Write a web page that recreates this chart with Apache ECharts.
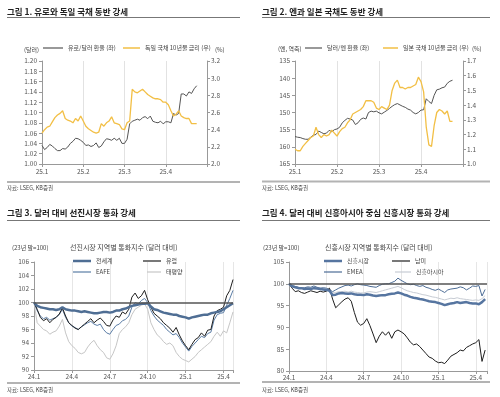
<!DOCTYPE html>
<html>
<head>
<meta charset="utf-8">
<script src="https://cdn.jsdelivr.net/npm/echarts@6/dist/echarts.min.js"></script>
<style>
  html, body { margin: 0; background: #fff; }
  #chart { width: 500px; height: 397px; }
</style>
</head>
<body>
<div id="chart"></div>
<script>
const FONT = '"Noto Sans CJK KR", "Noto Sans", sans-serif'

// 그림 1, 2: x = months since 25.1, one point every 1/16 month
const monthLabels = ['25.1', '25.2', '25.3', '25.4']
const eurUsd = [1.036, 1.028, 1.032, 1.038, 1.035, 1.030, 1.026, 1.026, 1.030, 1.029,
  1.033, 1.040, 1.044, 1.050, 1.049, 1.046, 1.042, 1.036, 1.037, 1.034,
  1.036, 1.041, 1.032, 1.035, 1.043, 1.049, 1.048, 1.046, 1.050, 1.046,
  1.050, 1.040, 1.040, 1.048, 1.078, 1.083, 1.085, 1.087, 1.085, 1.090,
  1.092, 1.088, 1.093, 1.083, 1.081, 1.080, 1.083, 1.078, 1.082, 1.082,
  1.080, 1.098, 1.095, 1.098, 1.136, 1.136, 1.132, 1.140, 1.137, 1.146, 1.152]
const bund10y = [2.36, 2.40, 2.43, 2.44, 2.49, 2.54, 2.57, 2.59, 2.62, 2.53,
  2.51, 2.50, 2.48, 2.53, 2.50, 2.56, 2.50, 2.44, 2.41, 2.39,
  2.37, 2.36, 2.37, 2.47, 2.44, 2.48, 2.50, 2.55, 2.48, 2.47,
  2.46, 2.41, 2.40, 2.48, 2.50, 2.87, 2.84, 2.83, 2.85, 2.87,
  2.84, 2.81, 2.79, 2.77, 2.76, 2.76, 2.75, 2.72, 2.72, 2.69,
  2.62, 2.56, 2.58, 2.62, 2.56, 2.54, 2.53, 2.53, 2.47, 2.47, 2.47]
const usdJpy = [157.0, 157.2, 157.3, 157.6, 157.8, 157.8, 157.2, 156.6, 156.4, 155.4,
  155.8, 156.2, 156.0, 155.2, 155.6, 155.0, 154.8, 154.3, 153.0, 152.3,
  151.7, 151.9, 152.2, 153.5, 153.0, 152.0, 151.6, 151.9, 150.0, 149.6,
  149.8, 149.6, 150.1, 150.4, 149.9, 149.4, 148.8, 148.2, 147.7, 147.4,
  147.8, 148.2, 148.5, 149.0, 149.3, 150.0, 150.4, 150.0, 149.3, 149.2,
  146.0, 146.8, 147.4, 145.0, 143.4, 143.2, 142.8, 142.6, 141.5, 140.9, 140.6]
const jgb10y = [1.10, 1.09, 1.09, 1.12, 1.14, 1.16, 1.18, 1.19, 1.25, 1.20,
  1.18, 1.20, 1.19, 1.20, 1.23, 1.21, 1.19, 1.22, 1.24, 1.25,
  1.28, 1.30, 1.34, 1.35, 1.36, 1.37, 1.39, 1.43, 1.43, 1.43,
  1.42, 1.38, 1.37, 1.39, 1.38, 1.37, 1.40, 1.50, 1.55, 1.57,
  1.52, 1.52, 1.51, 1.52, 1.52, 1.53, 1.54, 1.59, 1.56, 1.49,
  1.25, 1.13, 1.12, 1.26, 1.35, 1.37, 1.36, 1.34, 1.36, 1.29, 1.29]

// 그림 3, 4: x = months since 24.1, one point every 1/4 month
const quarterLabels = ['24.1', '24.4', '24.7', '24.10', '25.1', '25.4']
const dmWorld = [100, 99.5, 99.3, 99.2, 99.1, 99.0, 99.0, 98.9, 99.0, 99.3,
  99.0, 98.9, 98.8, 98.8, 98.7, 98.6, 98.7, 98.6, 98.5, 98.4,
  98.4, 98.5, 98.6, 98.6, 98.5, 98.6, 98.8, 98.8, 99.0, 99.1,
  99.3, 99.5, 99.6, 99.7, 99.8, 99.8, 99.9, 99.4, 99.0, 98.9,
  98.7, 98.5, 98.4, 98.3, 98.2, 98.2, 98.0, 97.9, 97.8, 97.6,
  97.8, 97.9, 98.0, 98.1, 98.2, 98.2, 98.4, 98.5, 98.6, 98.7,
  99.0, 99.3, 99.6, 99.9]
const dmEurope = [100, 99.0, 97.8, 97.3, 97.6, 97.0, 97.5, 97.8, 98.3, 99.2,
  98.0, 97.0, 96.6, 96.2, 96.0, 96.4, 96.8, 97.2, 97.6, 97.0,
  97.4, 97.7, 97.2, 96.6, 96.5, 97.4, 98.0, 97.8, 98.6, 98.3,
  99.0, 100.8, 101.4, 100.6, 101.0, 101.8, 100.4, 99.3, 98.4, 98.0,
  97.6, 97.0, 96.6, 96.2, 95.6, 96.3, 95.2, 94.3, 93.6, 93.0,
  93.8, 94.5, 94.8, 95.5, 95.0, 95.9, 96.0, 98.0, 98.8, 99.0,
  99.3, 101.0, 101.8, 103.4]
const dmEafe = [100, 98.8, 98.0, 97.6, 97.8, 97.4, 97.6, 97.8, 98.2, 99.0,
  97.8, 97.0, 96.5, 96.3, 96.0, 96.4, 96.7, 97.0, 97.2, 96.8,
  96.6, 96.8, 96.0, 95.5, 95.3, 96.0, 96.6, 96.8, 97.3, 97.5,
  98.0, 99.3, 100.0, 99.8, 100.3, 100.6, 100.0, 98.8, 98.0, 97.4,
  97.0, 96.6, 96.0, 95.6, 95.2, 95.4, 94.8, 94.0, 93.4, 92.8,
  93.5, 94.0, 94.5, 95.0, 94.8, 95.4, 95.6, 97.4, 98.2, 98.4,
  98.5, 99.6, 100.6, 101.8]
const dmPacific = [100, 97.0, 96.5, 96.0, 95.8, 95.3, 95.6, 95.8, 96.5, 97.5,
  95.5, 94.2, 93.6, 93.2, 92.6, 92.4, 92.6, 93.4, 94.0, 94.4,
  93.6, 93.0, 92.6, 91.8, 91.6, 92.4, 93.6, 95.4, 96.0, 96.4,
  97.0, 98.2, 99.0, 99.3, 99.6, 99.8, 99.0, 97.0, 96.0, 95.2,
  94.8, 94.2, 93.8, 94.0, 93.6, 92.6, 92.0, 91.6, 91.4, 91.2,
  91.6, 92.0, 92.6, 93.0, 93.4, 93.8, 94.2, 95.0, 95.6, 95.0,
  95.8, 95.5, 97.0, 98.6]
const emAll = [100, 99.4, 99.2, 99.0, 99.0, 98.8, 98.9, 98.8, 99.0, 98.9,
  98.8, 98.7, 98.6, 98.4, 97.4, 97.5, 97.8, 97.9, 97.8, 97.7,
  97.8, 97.6, 97.5, 97.5, 97.4, 97.6, 97.5, 97.3, 97.2, 97.3,
  97.4, 97.4, 97.6, 97.7, 97.8, 98.0, 97.8, 97.5, 97.3, 97.0,
  96.8, 96.7, 96.5, 96.4, 96.2, 96.0, 95.9, 95.8, 95.6, 95.4,
  95.1, 95.3, 95.5, 95.6, 95.8, 95.6, 95.7, 95.8, 95.6, 95.5,
  95.5, 95.3, 95.8, 96.5]
const emLatam = [100, 99.0, 98.2, 98.4, 98.0, 97.8, 98.1, 98.4, 98.2, 98.0,
  98.3, 98.1, 98.3, 99.0, 96.5, 94.5, 95.2, 95.9, 96.5, 96.8,
  96.0, 93.4, 91.2, 90.5, 90.9, 92.0, 90.4, 88.5, 86.5, 88.0,
  89.0, 88.2, 89.0, 87.5, 89.0, 89.4, 89.0, 88.5, 87.6, 86.6,
  86.0, 86.2, 85.6, 84.8, 84.0, 83.2, 82.9, 82.3, 81.9, 82.0,
  81.7, 82.5, 83.4, 83.8, 84.2, 84.8, 84.6, 85.4, 85.8, 86.2,
  86.5, 87.2, 82.2, 84.8]
const emEmea = [100, 99.6, 99.4, 99.2, 99.0, 99.1, 99.3, 99.2, 99.5, 99.2,
  99.0, 99.1, 99.0, 98.7, 98.2, 98.6, 99.0, 99.3, 99.6, 99.7,
  99.5, 99.8, 100.0, 99.8, 99.7, 99.6, 99.4, 99.3, 99.2, 99.6,
  99.9, 100.0, 100.0, 100.3, 100.6, 101.3, 100.8, 100.4, 100.0, 99.8,
  99.9, 99.6, 99.4, 99.6, 99.2, 99.0, 98.7, 98.5, 98.8, 98.4,
  98.0, 98.6, 98.8, 98.9, 99.0, 99.3, 99.1, 98.6, 99.0, 99.5,
  99.4, 99.6, 97.2, 98.7]
const emAsia = [100, 99.5, 99.3, 99.2, 99.1, 99.0, 99.0, 98.9, 99.0, 99.0,
  98.9, 98.8, 98.7, 98.6, 97.9, 98.0, 98.2, 98.2, 98.3, 98.1,
  98.3, 98.1, 98.0, 97.9, 97.9, 98.1, 98.2, 98.1, 98.0, 98.2,
  98.4, 98.6, 98.8, 99.0, 99.2, 99.4, 99.1, 98.7, 98.4, 98.2,
  98.0, 97.9, 97.7, 97.5, 97.4, 97.2, 97.0, 96.9, 96.7, 96.5,
  96.3, 96.5, 96.7, 96.6, 96.8, 96.6, 96.5, 96.4, 96.3, 96.2,
  96.3, 96.2, 96.6, 97.3]

const daily = (arr) => arr.map((v, i) => [i / 16, v])
const weekly = (arr) => arr.map((v, i) => [i / 4, v])

const labelStyle = { fontSize: 6.5, color: '#555', fontFamily: FONT }
const axisLine = { show: true, lineStyle: { color: '#999', width: 1 } }
const axisTick = { show: true, length: 3, lineStyle: { color: '#999' } }

const monthAxis = (gridIndex) => ({
  type: 'value', gridIndex, min: 0, max: 4, interval: 1,
  axisLine, axisTick,
  splitLine: { show: true, lineStyle: { color: '#e2e2e2' } },
  axisLabel: { ...labelStyle, margin: 4, formatter: (v) => monthLabels[v] ?? '' },
})
const quarterAxis = (gridIndex, max) => ({
  type: 'value', gridIndex, min: 0, max, interval: 3,
  axisLine, axisTick,
  splitLine: { show: true, lineStyle: { color: '#e6e6e6' } },
  axisLabel: { ...labelStyle, margin: 3, formatter: (v) => (v % 3 === 0 ? quarterLabels[v / 3] ?? '' : '') },
})
const valueAxis = (gridIndex, min, max, interval, digits, extra = {}) => ({
  type: 'value', gridIndex, min, max, interval,
  axisLine, axisTick, splitLine: { show: false },
  axisLabel: { ...labelStyle, margin: 5, formatter: (v) => v.toFixed(digits) },
  ...extra,
})

const line = (name, data, xAxisIndex, yAxisIndex, color, width, extra = {}) => ({
  type: 'line', name, data, xAxisIndex, yAxisIndex,
  showSymbol: false, symbol: 'none', silent: true,
  lineStyle: { color, width }, itemStyle: { color },
  ...extra,
})
const baseLine = {
  markLine: {
    silent: true, symbol: 'none', label: { show: false },
    lineStyle: { color: '#555', width: 1.5, type: 'solid' },
    data: [{ yAxis: 100 }],
  },
}

// one legend per item so each sits where the reference puts it
const legendAt = (name, left, cy, itemWidth = 18, thick = 1.2) => ({
  data: [name], left, top: cy - 4, padding: 0, icon: 'rect',
  itemWidth, itemHeight: thick, selectedMode: false,
  textStyle: { fontSize: 6, color: '#444', fontFamily: FONT, lineHeight: 8 },
})

const text = (x, y, t, size, extra = {}) => ({
  type: 'text', x, y,
  style: { text: t, fontSize: size, fontFamily: FONT, fill: '#444', textVerticalAlign: 'middle', ...extra },
})
const rule = (x1, x2, y, color, w) => ({
  type: 'line', shape: { x1, y1: y, x2, y2: y }, style: { stroke: color, lineWidth: w },
})

const chart = echarts.init(document.getElementById('chart'))
chart.setOption({
  animation: false,
  backgroundColor: '#fff',
  textStyle: { fontFamily: FONT },
  grid: [
    { left: 42, top: 61, width: 165, height: 103 },
    { left: 295, top: 61, width: 168, height: 103 },
    { left: 34, top: 262, width: 199, height: 108 },
    { left: 289, top: 262, width: 198, height: 109 },
  ],
  xAxis: [monthAxis(0), monthAxis(1), quarterAxis(2, 15.75), quarterAxis(3, 15.9)],
  yAxis: [
    valueAxis(0, 1.0, 1.2, 0.02, 2),
    valueAxis(0, 2.0, 3.2, 0.2, 1, { position: 'right', axisLabel: { ...labelStyle, margin: 4, formatter: (v) => v.toFixed(1) } }),
    valueAxis(1, 135, 165, 5, 0, { inverse: true }),
    valueAxis(1, 1.0, 1.7, 0.1, 1, { position: 'right', axisLabel: { ...labelStyle, margin: 4, formatter: (v) => v.toFixed(1) } }),
    valueAxis(2, 90, 106, 2, 0),
    valueAxis(3, 80, 105, 5, 0),
  ],
  legend: [
    legendAt('유로/달러 환율 (좌)', 43, 48, 20),
    legendAt('독일 국채 10년물 금리 (우)', 123, 48, 17, 1.5),
    legendAt('달러/엔 환율 (좌)', 305, 48, 17),
    legendAt('일본 국채 10년물 금리 (우)', 383, 48, 15, 1.5),
    legendAt('전세계', 73, 261, 18, 2.5),
    legendAt('유럽', 143, 261),
    legendAt('EAFE', 73, 272),
    legendAt('태평양', 147, 272, 14),
    legendAt('신흥시장', 324, 261, 18, 2.5),
    legendAt('남미', 392, 261),
    legendAt('EMEA', 324, 272),
    legendAt('신흥아시아', 395, 272, 16),
  ],
  series: [
    line('유로/달러 환율 (좌)', daily(eurUsd), 0, 0, '#555', 1),
    line('독일 국채 10년물 금리 (우)', daily(bund10y), 0, 1, '#f2bf45', 1.3),
    line('달러/엔 환율 (좌)', daily(usdJpy), 1, 2, '#555', 1),
    line('일본 국채 10년물 금리 (우)', daily(jgb10y), 1, 3, '#f2bf45', 1.3),
    line('태평양', weekly(dmPacific), 2, 4, '#c6c6c6', 1, baseLine),
    line('EAFE', weekly(dmEafe), 2, 4, '#5b7da6', 1),
    line('유럽', weekly(dmEurope), 2, 4, '#1e1e1e', 1),
    line('전세계', weekly(dmWorld), 2, 4, '#4f6e94', 2.5),
    line('신흥아시아', weekly(emAsia), 3, 5, '#c7ccd4', 1, baseLine),
    line('EMEA', weekly(emEmea), 3, 5, '#4d6d96', 1),
    line('남미', weekly(emLatam), 3, 5, '#1e1e1e', 1),
    line('신흥시장', weekly(emAll), 3, 5, '#5675a0', 2.5),
  ],
  graphic: [
    text(7, 12, '그림 1. 유로와 독일 국채 동반 강세', 8.5, { fontWeight: 'bold', fill: '#222' }),
    text(262, 12, '그림 2. 엔과 일본 국채도 동반 강세', 8.5, { fontWeight: 'bold', fill: '#222' }),
    text(7, 213, '그림 3. 달러 대비 선진시장 통화 강세', 8.5, { fontWeight: 'bold', fill: '#222' }),
    text(262, 213, '그림 4. 달러 대비 신흥아시아 중심 신흥시장 통화 강세', 8.5, { fontWeight: 'bold', fill: '#222' }),
    rule(7, 240, 17.5, '#777', 1),
    rule(262, 490, 17.5, '#777', 1),
    rule(7, 240, 220.5, '#777', 1),
    rule(262, 490, 220.5, '#777', 1),
    rule(7, 240, 182, '#b3b3b3', 2),
    rule(262, 490, 181.5, '#b3b3b3', 2),
    rule(7, 240, 383, '#b3b3b3', 2),
    rule(262, 490, 382, '#b3b3b3', 2),
    text(7, 187.5, '자료: LSEG, KB증권', 5.5),
    text(262, 187.5, '자료: LSEG, KB증권', 5.5),
    text(7, 389.5, '자료: LSEG, KB증권', 5.5),
    text(262, 389.5, '자료: LSEG, KB증권', 5.5),
    text(24, 49.5, '(달러)', 6),
    text(215, 49.5, '(%)', 6),
    text(278, 49, '(엔, 역축)', 6),
    text(472, 49, '(%)', 6),
    text(12, 248, '(23년 말=100)', 6),
    text(70, 247.5, '선진시장 지역별 통화지수 (달러 대비)', 7),
    text(263, 248, '(23년 말=100)', 6),
    text(325, 247.5, '신흥시장 지역별 통화지수 (달러 대비)', 7),
  ],
})
</script>
</body>
</html>
